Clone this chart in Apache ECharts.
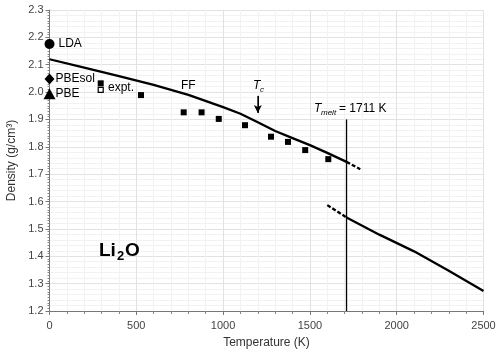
<!DOCTYPE html>
<html>
<head>
<meta charset="utf-8">
<script src="https://cdn.jsdelivr.net/npm/echarts@6/dist/echarts.min.js"></script>
<style>html,body{margin:0;padding:0;background:#fff}#c{width:503px;height:356px}</style>
</head>
<body>
<div id="c"></div>
<script>
// ---- data ----
const xTicks = [0, 500, 1000, 1500, 2000, 2500];
const ffSolid = [[0,2.12],[200,2.089],[400,2.058],[600,2.026],[800,1.99],[1000,1.945],[1100,1.921],[1200,1.89],[1300,1.858],[1400,1.832],[1500,1.806],[1600,1.778],[1711,1.745]];
const ffSolidDashed = [[1711,1.745],[1790,1.718]];
const ffLiquidDashed = [[1600,1.587],[1711,1.542]];
const ffLiquid = [[1711,1.542],[1900,1.479],[2100,1.418],[2300,1.347],[2500,1.273]];
const exptFilled = [[295,2.032],[527,1.989],[773,1.926],[876,1.926],[975,1.902],[1126,1.879],[1276,1.837],[1374,1.818],[1473,1.788],[1606,1.755]];
const exptHollow = [[295,2.008]];
const ldaPoint = [[0,2.176]];
const pbesolPoint = [[0,2.048]];
const pbePoint = [[0,1.994]];
const tMelt = 1711;
const tMeltLine = [[tMelt,1.2],[tMelt,1.90]];
const tcArrow = [[1200,1.986],[1200,1.924]];

const chart = echarts.init(document.getElementById('c'));
const FONT = 'Liberation Sans, Arial, sans-serif';
const lineBase = {type:'line', symbol:'none', silent:true, clip:false, animation:false};
const scatterBase = {type:'scatter', clip:false, silent:true, animation:false};
function txt(left, top, text, size, extra){
  return {type:'text', left:left, top:top, z:100, zlevel:1,
    style:Object.assign({text:text, font:(extra && extra.font) || (size+'px '+FONT), fill:'#000'}, extra||{})};
}

chart.setOption({
  animation:false,
  grid:{left:49.5, right:19.5, top:10, bottom:45, containLabel:false, outerBoundsMode:'none'},
  xAxis:[{
    type:'value', min:0, max:2500, interval:500,
    name:'Temperature (K)', nameLocation:'middle', nameGap:26,
    nameTextStyle:{fontFamily:FONT, fontSize:12, color:'#333'},
    axisLine:{show:true, lineStyle:{color:'#777'}},
    axisTick:{show:true, length:4, lineStyle:{color:'#777'}},
    minorTick:{show:true, splitNumber:5, length:3, lineStyle:{color:'#888'}},
    splitLine:{show:true, lineStyle:{color:'#e2e2e2'}},
    minorSplitLine:{show:true, lineStyle:{color:'#f2f2f2'}},
    axisLabel:{fontFamily:FONT, fontSize:11, color:'#444', margin:9, formatter:v=>String(v)}
  }],
  yAxis:[{
    type:'value', min:1.2, max:2.3, interval:0.1,
    name:'Density (g/cm³)', nameLocation:'middle', nameGap:32,
    nameTextStyle:{fontFamily:FONT, fontSize:12, color:'#333'},
    axisLine:{show:true, lineStyle:{color:'#777'}},
    axisTick:{show:true, length:4, lineStyle:{color:'#777'}},
    minorTick:{show:true, splitNumber:10, length:2, lineStyle:{color:'#888'}},
    splitLine:{show:true, lineStyle:{color:'#e2e2e2'}},
    minorSplitLine:{show:false},
    axisLabel:{fontFamily:FONT, fontSize:11, color:'#444', margin:6, formatter:v=>v.toFixed(1)}
  },{
    type:'value', min:1.2, max:2.3, interval:0.1, position:'left',
    axisLine:{show:false}, axisTick:{show:false}, axisLabel:{show:false},
    splitLine:{show:false},
    minorTick:{show:false, splitNumber:5},
    minorSplitLine:{show:true, lineStyle:{color:'#f2f2f2'}}
  }],
  series:[
    Object.assign({}, lineBase, {data:tMeltLine, lineStyle:{color:'#000', width:1.3}, z:1}),
    Object.assign({}, lineBase, {data:ffSolid, lineStyle:{color:'#000', width:2.3}}),
    Object.assign({}, lineBase, {data:ffSolidDashed, lineStyle:{color:'#000', width:2.3, type:[4,2]}}),
    Object.assign({}, lineBase, {data:ffLiquidDashed, lineStyle:{color:'#000', width:2.3, type:[4,2]}}),
    Object.assign({}, lineBase, {data:ffLiquid, lineStyle:{color:'#000', width:2.3}}),
    Object.assign({}, lineBase, {data:tcArrow, lineStyle:{color:'#000', width:1},
      markLine:{silent:true, symbol:['none','arrow'], symbolSize:[6,8], label:{show:false},
        lineStyle:{color:'#000', width:1, type:'solid'},
        data:[[{coord:tcArrow[0]},{coord:tcArrow[1]}]]}}),
    Object.assign({}, scatterBase, {data:exptFilled, symbol:'rect', symbolSize:6, itemStyle:{color:'#000', opacity:1}}),
    Object.assign({}, scatterBase, {data:exptHollow, symbol:'rect', symbolSize:5, itemStyle:{color:'#fff', borderColor:'#000', borderWidth:1.2, opacity:1}}),
    Object.assign({}, scatterBase, {data:ldaPoint, symbol:'circle', symbolSize:10, itemStyle:{color:'#000', opacity:1},
      label:{show:true, position:'right', distance:4, formatter:'LDA', fontFamily:FONT, fontSize:12, color:'#000'}}),
    Object.assign({}, scatterBase, {data:pbesolPoint, symbol:'diamond', symbolSize:[10,11], itemStyle:{color:'#000', opacity:1},
      label:{show:true, position:'right', distance:1, formatter:'PBEsol', fontFamily:FONT, fontSize:12, color:'#000'}}),
    Object.assign({}, scatterBase, {data:pbePoint, symbol:'triangle', symbolSize:[12,11], itemStyle:{color:'#000', opacity:1},
      label:{show:true, position:'right', distance:0, formatter:'PBE', fontFamily:FONT, fontSize:12, color:'#000'}})
  ],
  graphic:[
    txt(108, 82, 'expt.', 12),
    txt(181, 80, 'FF', 12),
    txt(253, 80, 'T', 12, {font:'italic 12px '+FONT}),
    txt(260, 86, 'c', 8, {font:'italic 8px '+FONT}),
    txt(314, 103, 'T', 12, {font:'italic 12px '+FONT}),
    txt(321, 109, 'melt', 8, {font:'italic 8px '+FONT}),
    txt(339, 103, '= 1711 K', 12),
    txt(99, 241, 'Li', 19, {font:'bold 19px '+FONT}),
    txt(117, 250, '2', 13, {font:'bold 13px '+FONT}),
    txt(125, 241, 'O', 19, {font:'bold 19px '+FONT})
  ]
});
</script>
</body>
</html>
